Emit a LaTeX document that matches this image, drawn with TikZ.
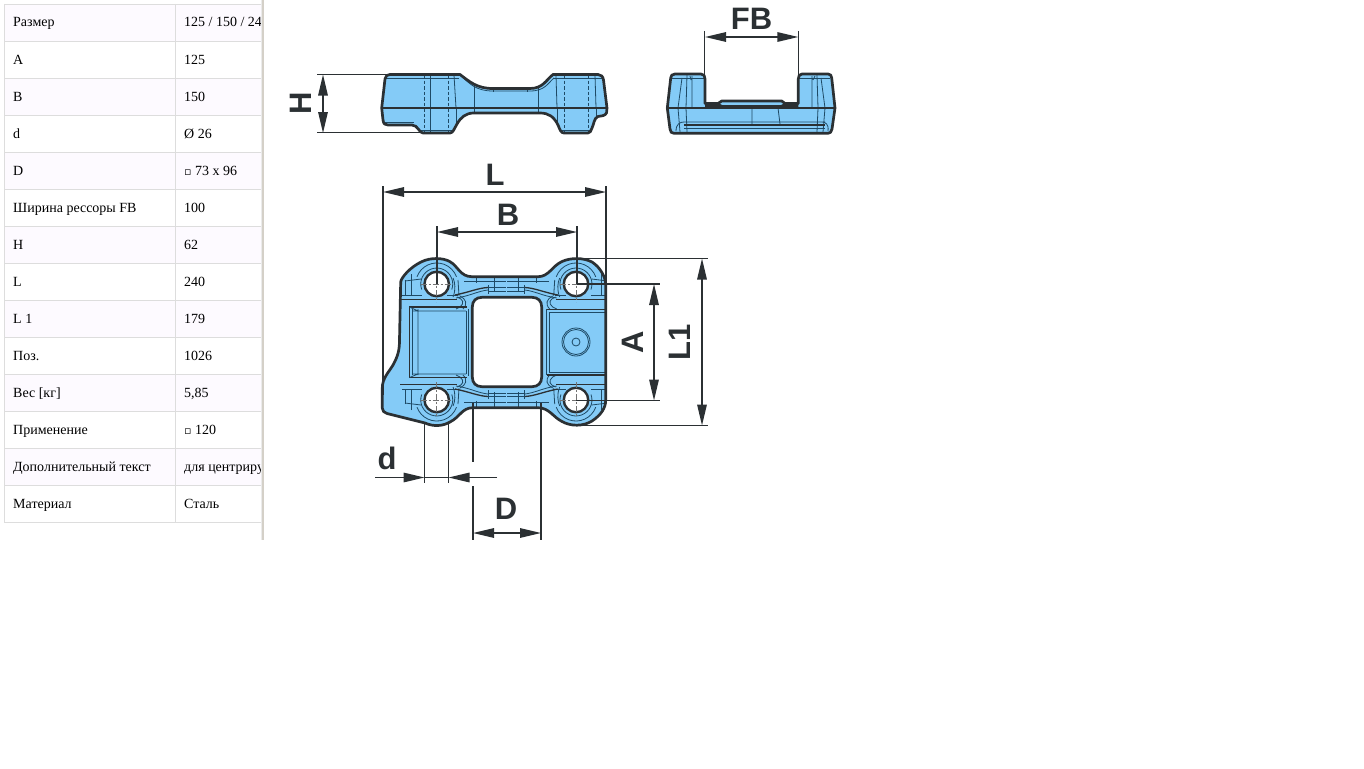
\documentclass[tikz,border=0pt]{standalone}
\usepackage{fontspec}
\setmainfont{Liberation Serif}
\newfontfamily\dimfont{Liberation Sans}
\newfontfamily\symfont{DejaVu Sans}
\usetikzlibrary{arrows.meta,calc}
\definecolor{partblue}{HTML}{84CBF7}
\definecolor{inkline}{HTML}{2B3033}
\definecolor{thinline}{HTML}{1E4A66}
\definecolor{cellrule}{HTML}{DDDDDD}
\definecolor{cellshade}{HTML}{FDFAFF}
\definecolor{barline}{HTML}{D4D0C8}
\tikzset{
  cellkey/.style={anchor=base west,inner sep=0pt,font=\fontsize{14}{16}\selectfont,text=black},
  outline/.style={draw=inkline,line width=2.7pt,line join=round},
  detail/.style={draw=thinline,line width=0.8pt},
  heavy/.style={draw=inkline,line width=1.3pt},
  hidden/.style={draw=thinline,line width=0.8pt,dash pattern=on 3.5pt off 2pt},
  centreline/.style={draw=black!55,line width=0.8pt,dash pattern=on 6pt off 2pt on 2pt off 2pt},
  extline/.style={draw=inkline,line width=1.5pt},
  dimline/.style={draw=inkline,line width=1.5pt,{Triangle[length=21pt,width=9.5pt]}-{Triangle[length=21pt,width=9.5pt]}},
  leader/.style={draw=inkline,line width=1.5pt,-{Triangle[length=21pt,width=9.5pt]}},
  dimlabel/.style={inner sep=0pt,text=inkline,font=\dimfont\bfseries\fontsize{31}{31}\selectfont}
}
\newcommand{\sideoutline}{(381.7,108) -- (385,79) .. controls (385.5,76) and (387,74.5) .. (390,74.5) -- (460,74.5)
  .. controls (470,82) and (477,88.5) .. (493,88.5) -- (530,88.5) .. controls (543,88.5) and (546,80) .. (553,74.5)
  -- (598,74.5) .. controls (601,74.5) and (603,76.5) .. (603.5,80) -- (607,108) -- (606.5,113)
  .. controls (605,116) and (601,116) .. (598,116.5) .. controls (594,118) and (594,124) .. (592,128)
  .. controls (591,131) and (590,133) .. (588,133) -- (564,133) .. controls (561,133) and (560,130) .. (558,125)
  .. controls (554,117) and (549,113) .. (540,113) -- (474,113) .. controls (466,113) and (461,117) .. (457,124)
  .. controls (454,129) and (453,133) .. (450,133) -- (423,133) .. controls (419,133) and (418,125) .. (412,125)
  -- (388,125) .. controls (385,125) and (383.5,124) .. (383,120) -- cycle}
\newcommand{\frontoutline}{(670.7,78) .. controls (671,75.5) and (672,74) .. (675,74) -- (701,74) .. controls (704,74) and (705,76) .. (705,79)
  -- (705,103.5) -- (718,103.5) -- (721.7,101) -- (781.7,101) -- (785,103.5) -- (798.3,103.5) -- (798.3,79)
  .. controls (798.3,76) and (799.5,74) .. (802,74) -- (828,74) .. controls (830.5,74) and (831.5,75.5) .. (831.7,78)
  -- (835,108) -- (832,129) .. controls (831.5,132) and (830,133.3) .. (828,133.3) -- (674,133.3)
  .. controls (671.5,133.3) and (670.5,132) .. (670,129) -- (667.3,108) -- cycle}
\newcommand{\planoutline}{(400.7,282) .. controls (401,278) and (410,267) .. (421.7,261.7)
  .. controls (430,257.5) and (443,257.5) .. (450,261.7)
  .. controls (458,266) and (460,276.7) .. (472,276.7) -- (538,276.7)
  .. controls (549,276.7) and (552,266) .. (562,261.5)
  .. controls (571,257.5) and (583,257.5) .. (592,262) .. controls (600,267) and (605.7,277) .. (605.7,285)
  -- (605.7,400) .. controls (605.7,408) and (601,415) .. (592,421) .. controls (583,426.5) and (571,426.5) .. (562,421.5)
  .. controls (553,417) and (549,407.7) .. (538,407.7) -- (473,407.7)
  .. controls (462,407.7) and (460,417) .. (450,422) .. controls (443,426) and (434,427) .. (425,423)
  -- (387,413.5) .. controls (384,412.5) and (382.3,411) .. (382.3,408) -- (382.3,388)
  .. controls (382.3,378) and (389,372) .. (393,365) .. controls (398,356) and (399.5,350) .. (399.5,340) -- cycle}
% details around one hole + band, top left quadrant
\newcommand{\quadrantdetail}{%
  \draw[detail] (402,295) -- (422,295) (447,295) -- (458,295);
  \draw[heavy] (400,299.5) -- (424,299.5) (424,299.5) -- (457,299.5);
  \draw[detail] (411.5,274) -- (411.5,295) (405,280) -- (405,295);
  \draw[detail] (405,281) -- (421,279);
  \draw[detail] (421.7,289.5) arc[start angle=160,end angle=380,radius=16];
  \draw[detail] (417,276.8) arc[start angle=200,end angle=340,radius=21];
  \draw[detail] (453,278) .. controls (455,282) and (456,290) .. (453,297);
  \draw[detail] (458,280) -- (459,296);
  \draw[heavy] (455,295) .. controls (470,292) and (478,288) .. (488,287.5);
  \draw[detail] (456,298) .. controls (470,296) and (478,291) .. (488,290);
  \draw[detail] (488,285) -- (488,294) (494,277) -- (494,292);
  \draw[detail] (464,281.5) -- (506,281.5) (488,287.5) -- (506,287.5) (488,291) -- (506,291);
  \draw[detail] (476,277) -- (476,283);
  \draw[detail] (457,297) .. controls (463,299) and (465,303) .. (460,307) -- (456,309);
  \draw[detail] (460,296) .. controls (466,299) and (468,304) .. (463,309);
}
\begin{document}
\begin{tikzpicture}[x=1pt,y=-1pt]
\useasboundingbox (0,0) rectangle (1364,768);
\fill[white] (0,0) rectangle (1364,768);
% ---------- table ----------
\foreach \r in {0,2,...,12}{
  \fill[cellshade] (4.5,{4.5+37*\r}) rectangle (260.5,{41.5+37*\r});
}
\foreach \r in {0,...,14}{
  \draw[cellrule,line width=1pt] (4,{4.5+37*\r}) -- (260.5,{4.5+37*\r});
}
\draw[cellrule,line width=1pt] (4.5,4) -- (4.5,523);
\draw[cellrule,line width=1pt] (175.5,4) -- (175.5,523);
\fill[cellrule!60] (260.5,0) rectangle (261.5,540);
\fill[barline] (261.5,0) rectangle (264,540);
\foreach \r/\k in {0/Размер,1/A,2/B,3/d,4/D,5/Ширина рессоры FB,6/H,7/L,8/L 1,9/Поз.,10/Вес [кг],11/Применение,12/Дополнительный текст,13/Материал}{
  \node[cellkey] (key\r) at (13,{27+37*\r}) {\k};
}
\begin{scope}
\clip (176,0) rectangle (260.5,540);
\node[cellkey] (val0) at (184,27) {125 / 150 / 240};
\node[cellkey] (val1) at (184,64) {125};
\node[cellkey] (val2) at (184,101) {150};
\node[cellkey] (val3) at (184,138) {Ø 26};
\node[cellkey] (val4) at (184,175) {{\symfont\fontsize{11}{11}\selectfont ▫} 73 x 96};
\node[cellkey] (val5) at (184,212) {100};
\node[cellkey] (val6) at (184,249) {62};
\node[cellkey] (val7) at (184,286) {240};
\node[cellkey] (val8) at (184,323) {179};
\node[cellkey] (val9) at (184,360) {1026};
\node[cellkey] (val10) at (184,397) {5,85};
\node[cellkey] (val11) at (184,434) {{\symfont\fontsize{11}{11}\selectfont ▫} 120};
\node[cellkey] (val12) at (184,471) {для центриру};
\node[cellkey] (val13) at (184,508) {Сталь};
\end{scope}
% ---------- side view ----------
\fill[partblue] \sideoutline;
\begin{scope}
\clip \sideoutline;
\draw[detail] (386,78) -- (459,78) (554,78) -- (602,78);
\draw[detail] (460,75) .. controls (470,84) and (476,91) .. (493,91) -- (530,91) .. controls (545,91) and (548,83) .. (554,78);
\draw[detail] (493,89) -- (493,92) (527,89) -- (527,92);
\draw[detail] (474,115.5) -- (540,115.5);
\draw[detail] (460,119) .. controls (464,116) and (468,115.5) .. (474,115.5);
\draw[detail] (540,115.5) .. controls (546,115.5) and (551,118) .. (555,123);
\draw[detail] (384,122) -- (414,122) (420,130.5) -- (452,130.5) (561,130.5) -- (591,130.5);
\foreach \xa/\xb in {430.7/430.7,454/456,474/474,538.7/538.7,556/557,595/596}{
  \draw[detail] (\xa,75) -- (\xb,108);
  \draw[detail] (\xb,108) -- (\xb,133);
}
\foreach \xa in {424,448,564,588.5}{
  \draw[hidden] (\xa,75) -- (\xa,133);
}
\end{scope}
\path[outline] \sideoutline;
\draw[draw=inkline,line width=2.2pt] (381.7,108) -- (607,108);
% ---------- end view ----------
\fill[partblue] \frontoutline;
\begin{scope}
\clip \frontoutline;
\draw[detail] (672,78) -- (704,78) (799,78) -- (830,78);
\draw[detail] (687,75) -- (686,108) -- (687,132) (692,76) -- (692,108) (690,76) -- (691,80);
\draw[detail] (817,75) -- (818,108) -- (817,132) (812,76) -- (812,108) (815,76) -- (813,80);
\draw[detail] (682,78) -- (678,108) -- (680,132) (821,78) -- (825,108) -- (823,132);
\draw[detail] (752,108) -- (752,124) (778,108) -- (780,124);
\draw[heavy] (684,125) -- (825,125);
\draw[detail] (684,122) -- (825,122) (676,131) .. controls (676,124) and (680,122) .. (684,122) (828,131) .. controls (829,124) and (825,122) .. (822,122);
\draw[detail] (684,128) -- (825,128);
\end{scope}
\fill[inkline] (705,103) -- (718,103) -- (722,105) -- (781,105) -- (785,103) -- (798.3,103) -- (798.3,108) -- (705,108) -- cycle;
\path[outline] \frontoutline;
\draw[draw=inkline,line width=2.2pt] (667.3,108) -- (835,108);
% ---------- plan view ----------
\fill[partblue] \planoutline;
\begin{scope}
\clip \planoutline;
\quadrantdetail
\begin{scope}[shift={(1012.7,0)},xscale=-1]\quadrantdetail\end{scope}
\begin{scope}[shift={(0,684)},yscale=-1]\quadrantdetail\end{scope}
\begin{scope}[shift={(1012.7,684)},xscale=-1,yscale=-1]\quadrantdetail\end{scope}
% pockets
\draw[heavy] (409.5,378) -- (409.5,307) -- (467,307) (409.5,377.5) -- (467,377.5);
\draw[detail] (412,309) -- (412,375);
\draw[detail] (418,309) -- (418,375) (412,311) -- (466,311) (412,374) -- (466,374) (409.5,307) -- (418,311) (409.5,377.5) -- (418,374);
\draw[detail] (468,309) -- (468,376) (466,311) -- (466,374);
\draw[detail] (546,309) -- (546,375) (549,312) -- (549,372);
\draw[heavy] (547,309.5) -- (605,309.5) (547,375) -- (605,375);
\draw[detail] (549,312) -- (605,312) (549,372) -- (605,372);
\end{scope}
\path[outline] \planoutline;
% window
\path[outline,fill=white] (482,297.3) -- (532,297.3) .. controls (538,297.3) and (541.7,301) .. (541.7,307) -- (541.7,377)
  .. controls (541.7,383) and (538,386.7) .. (532,386.7) -- (482,386.7) .. controls (476,386.7) and (472.3,383) .. (472.3,377)
  -- (472.3,307) .. controls (472.3,301) and (476,297.3) .. (482,297.3) -- cycle;
% boss
\node[circle,draw=thinline,line width=0.8pt,minimum size=28pt,inner sep=0pt] (bossa) at (576,342) {};
\node[circle,draw=thinline,line width=0.8pt,minimum size=25pt,inner sep=0pt] (bossb) at (576,342) {};
\node[circle,draw=thinline,line width=0.8pt,minimum size=8pt,inner sep=0pt] (bossc) at (576,342) {};
% holes
\foreach \n/\hx/\hy in {a/436.7/284,b/576/284,c/436.7/400,d/576/400}{
  \node[circle,draw=inkline,fill=white,line width=2.4pt,minimum size=24.5pt,inner sep=0pt] (hole\n) at (\hx,\hy) {};
  \draw[centreline] ($(\hx,\hy)+(-16,0)$) -- ($(\hx,\hy)+(16,0)$);
  \draw[centreline] ($(\hx,\hy)+(0,-18)$) -- ($(\hx,\hy)+(0,18)$);
}
% ---------- dimensions ----------
\coordinate (Hu) at (323,74.5); \coordinate (Hd) at (323,133);
\draw[extline] (317,74.5) -- (390,74.5) (317,132.5) -- (422,132.5);
\draw[dimline] (Hu) -- (Hd);
\node[dimlabel,rotate=90] (labH) at (301,103) {H};
\coordinate (FBl) at (705,37); \coordinate (FBr) at (798.3,37);
\draw[extline] (704.7,31) -- (704.7,78) (798.3,31) -- (798.3,78);
\draw[dimline] (FBl) -- (FBr);
\node[dimlabel] (labFB) at (751.5,19) {FB};
\coordinate (Ll) at (383,192); \coordinate (Lr) at (606,192);
\draw[extline] (383,186) -- (383,395) (606,186) -- (606,290);
\draw[dimline] (Ll) -- (Lr);
\node[dimlabel] (labL) at (495,174.5) {L};
\coordinate (Bl) at (437,232); \coordinate (Br) at (577,232);
\draw[extline] (437,226) -- (437,284) (577,226) -- (577,284);
\draw[dimline] (Bl) -- (Br);
\node[dimlabel] (labB) at (508,214.5) {B};
\coordinate (Au) at (654,284); \coordinate (Ad) at (654,400.5);
\draw[extline] (577,284) -- (660,284) (576,400.5) -- (660,400.5);
\draw[dimline] (Au) -- (Ad);
\node[dimlabel,rotate=90] (labA) at (632.5,342) {A};
\coordinate (Mu) at (702,258.5); \coordinate (Md) at (702,425.5);
\draw[extline] (577,258.5) -- (708,258.5) (577,425.5) -- (708,425.5);
\draw[dimline] (Mu) -- (Md);
\node[dimlabel,rotate=90] (labLa) at (680,342) {L1};
\coordinate (dl) at (424.5,477.5); \coordinate (dr) at (448.5,477.5);
\coordinate (dlo) at (375,477.5); \coordinate (dro) at (497,477.5);
\draw[extline] (424.5,422) -- (424.5,483) (448.5,422) -- (448.5,483);
\draw[leader] (dlo) -- (dl);
\draw[leader] (dro) -- (dr);
\draw[extline] (dl) -- (dr);
\node[dimlabel] (labd) at (387,458) {d};
\coordinate (Dl) at (473,533); \coordinate (Dr) at (541,533);
\draw[extline] (473,403) -- (473,462) (473,486) -- (473,540) (541,403) -- (541,540);
\draw[dimline] (Dl) -- (Dr);
\node[dimlabel] (labD) at (506,508.5) {D};
\end{tikzpicture}
\end{document}
